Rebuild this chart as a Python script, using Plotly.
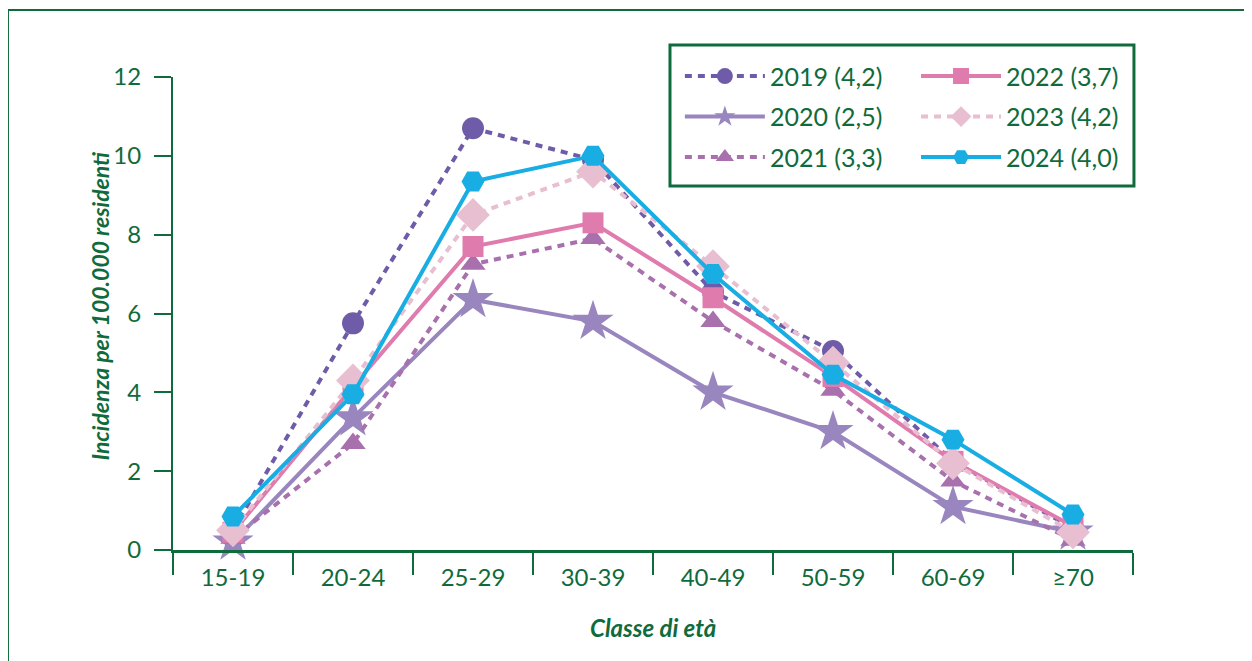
"""Incidenza per classe di età, 2019-2024 — line chart with markers."""

import plotly.graph_objects as go

GREEN = "#0f6b3c"
FONT = "Lato"

age_classes = ["15-19", "20-24", "25-29", "30-39", "40-49", "50-59", "60-69", "≥70"]

inc_2019 = [0.5, 5.75, 10.7, 9.9, 6.55, 5.05, 2.25, 0.55]
inc_2020 = [0.2, 3.35, 6.35, 5.8, 4.0, 3.0, 1.1, 0.45]
inc_2021 = [0.3, 2.7, 7.25, 7.9, 5.8, 4.05, 1.75, 0.25]
inc_2022 = [0.45, 4.15, 7.7, 8.3, 6.4, 4.4, 2.25, 0.6]
inc_2023 = [0.5, 4.3, 8.5, 9.6, 7.2, 4.75, 2.2, 0.45]
inc_2024 = [0.85, 3.95, 9.35, 10.0, 7.0, 4.45, 2.8, 0.9]

series = [
    # label, values, colour, symbol, dash, marker size, legend
    ("2019 (4,2)", inc_2019, "#6f5ca8", "circle", "7px,6px", 22, "legend"),
    ("2020 (2,5)", inc_2020, "#9a86bf", "star", "solid", 31, "legend"),
    ("2021 (3,3)", inc_2021, "#a870ac", "triangle-up", "7px,6px", 22, "legend"),
    ("2022 (3,7)", inc_2022, "#e07bae", "square", "solid", 21, "legend2"),
    ("2023 (4,2)", inc_2023, "#e8bed1", "diamond", "7px,6px", 26, "legend2"),
    ("2024 (4,0)", inc_2024, "#18ade3", "hexagon2", "solid", 23, "legend2"),
]

fig = go.Figure()
for name, vals, color, symbol, dash, size, leg in series:
    fig.add_trace(
        go.Scatter(
            x=age_classes,
            y=vals,
            name=name,
            mode="lines+markers",
            line=dict(color=color, width=4, dash=dash),
            marker=dict(symbol=symbol, size=size, color=color, line=dict(width=0)),
            legend=leg,
            legendgroup=name,
            cliponaxis=False,
        )
    )

legend_common = dict(
    font=dict(family=FONT, size=25, color=GREEN),
    bgcolor="rgba(0,0,0,0)",
    borderwidth=0,
    itemwidth=80,
    tracegroupgap=5,
    yanchor="top",
    xanchor="left",
    itemclick=False,
)

# page body has an 8px margin, so the figure is 8px smaller and shifted
fig.update_layout(
    width=1244,
    height=653,
    margin=dict(l=165, r=119, t=69, b=111),
    paper_bgcolor="white",
    plot_bgcolor="white",
    font=dict(family=FONT, color=GREEN),
    legend=dict(x=0.528, y=1.05, **legend_common),
    legend2=dict(x=0.774, y=1.05, **legend_common),
    xaxis=dict(
        type="category",
        range=[-0.5, 7.5],
        tickson="boundaries",
        ticks="outside",
        ticklen=22,
        tickwidth=2,
        tickcolor=GREEN,
        showline=True,
        linecolor=GREEN,
        linewidth=3,
        showgrid=False,
        zeroline=False,
        ticklabelstandoff=4,
        tickfont=dict(family=FONT, size=24, color=GREEN),
    ),
    yaxis=dict(
        range=[0, 12],
        tickvals=[0, 2, 4, 6, 8, 10, 12],
        ticks="outside",
        ticklen=17,
        tickwidth=2,
        tickcolor=GREEN,
        showline=True,
        linecolor=GREEN,
        linewidth=2,
        showgrid=False,
        zeroline=False,
        ticklabelstandoff=8,
        tickfont=dict(family=FONT, size=24, color=GREEN),
    ),
    annotations=[
        dict(
            text="<b><i>Incidenza per 100.000 residenti</i></b>",
            xref="paper", yref="paper", x=-0.076, y=0.515,
            xanchor="center", yanchor="middle",
            textangle=-90, showarrow=False,
            font=dict(family=FONT, size=23, color=GREEN),
        ),
        dict(
            text="<b><i>Classe di età</i></b>",
            xref="paper", yref="paper", x=0.5, y=-0.163,
            xanchor="center", yanchor="middle",
            showarrow=False,
            font=dict(family=FONT, size=24, color=GREEN),
        ),
    ],
    shapes=[
        # legend frame
        dict(type="rect", xref="paper", yref="paper",
             x0=0.5177, x1=1.001, y0=0.7696, y1=1.0677,
             line=dict(color=GREEN, width=3)),
        # outer frame
        dict(type="rect", xref="paper", yref="paper",
             x0=-0.1719, x1=1.2, y0=-0.3, y1=1.1416,
             line=dict(color=GREEN, width=2), layer="below"),
    ],
)

fig.write_html("out.html")
